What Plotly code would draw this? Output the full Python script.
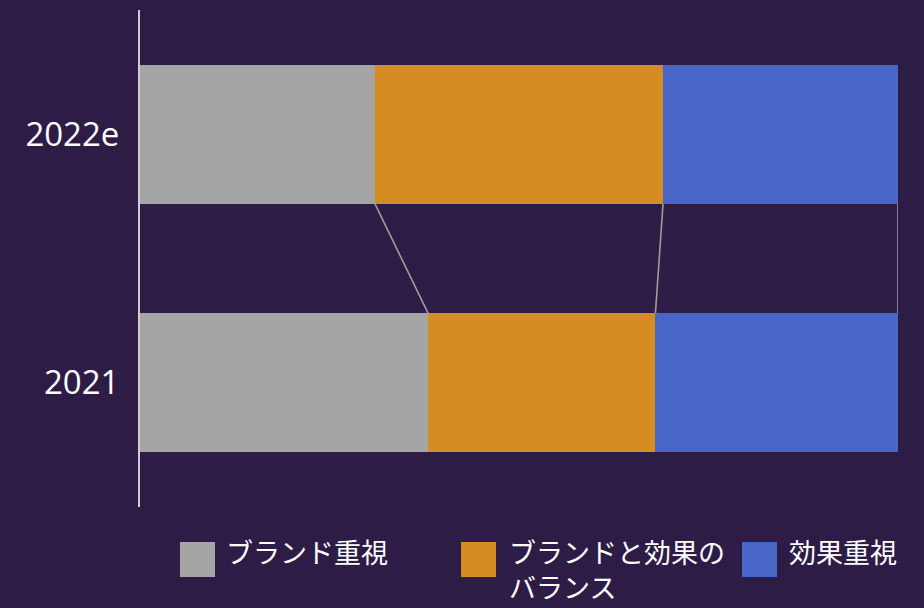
import plotly.graph_objects as go

# Survey shares (%) per year, stacked to 100
years = ["2021", "2022e"]
series_names = ["ブランド重視", "ブランドと効果の<br>バランス", "効果重視"]
brand_focus = [38, 31]
balanced = [30, 38]
effect_focus = [32, 31]
series_values = [brand_focus, balanced, effect_focus]
series_colors = ["#a5a5a5", "#d58d21", "#4866c8"]

BG = "#2d1c46"
FONT = "Open Sans, Noto Sans CJK JP, sans-serif"
JP_FONT = "Noto Sans CJK JP, sans-serif"
BAR_W = 0.56

W, H = 924, 608
ML, MR, MT, MB = 140, 26, 10, 101
PW, PH = W - ML - MR, H - MT - MB


def px_x(px):
    return (px - ML) / PW


def px_y(py):
    return (H - MB - py) / PH


y_pos = list(range(len(years)))

fig = go.Figure()
for name, vals, col in zip(series_names, series_values, series_colors):
    fig.add_trace(go.Bar(
        y=y_pos, x=vals, orientation="h", width=BAR_W,
        marker=dict(color=col, line=dict(width=0)),
        name=name.replace("<br>", ""), showlegend=False, hoverinfo="x",
    ))

# connector lines between the cumulative boundaries of adjacent bars
cum = []
for i in range(len(years)):
    s, row = 0, []
    for vals in series_values:
        s += vals[i]
        row.append(s)
    cum.append(row)

for i in range(len(years) - 1):
    lower, upper = cum[i], cum[i + 1]
    for a, b in zip(upper, lower):
        fig.add_trace(go.Scatter(
            x=[a, b], y=[y_pos[i + 1] - BAR_W / 2, y_pos[i] + BAR_W / 2],
            mode="lines", line=dict(color="#9c9c9c", width=1.6),
            showlegend=False, hoverinfo="skip",
        ))

# legend drawn as large swatches with labels underneath the plot
swatch_x = [180, 461, 742]
text_x = [225, 508, 788]
shapes = []
annotations = []
for sx, tx, name, col in zip(swatch_x, text_x, series_names, series_colors):
    shapes.append(dict(
        type="rect", xref="paper", yref="paper",
        x0=px_x(sx), x1=px_x(sx + 35), y0=px_y(542), y1=px_y(577),
        fillcolor=col, line=dict(width=0),
    ))
    annotations.append(dict(
        xref="paper", yref="paper", x=px_x(tx), y=px_y(531),
        xanchor="left", yanchor="top", align="left", text=name,
        showarrow=False, borderpad=0,
        font=dict(family=JP_FONT, size=27, color="#ffffff"),
    ))

fig.update_layout(
    width=W, height=H,
    margin=dict(l=ML, r=MR, t=MT, b=MB),
    paper_bgcolor=BG, plot_bgcolor=BG,
    barmode="stack", bargap=0,
    shapes=shapes, annotations=annotations,
    xaxis=dict(range=[0, 100], visible=False, fixedrange=True),
    yaxis=dict(
        range=[-0.5, len(years) - 0.5], tickvals=y_pos, ticktext=years,
        showgrid=False, zeroline=False, showline=True, linecolor="#cfcfcf",
        linewidth=2, ticks="", ticklabelstandoff=12,
        tickfont=dict(family=FONT, size=33, color="#ffffff"),
    ),
)

fig.write_html("out.html")
